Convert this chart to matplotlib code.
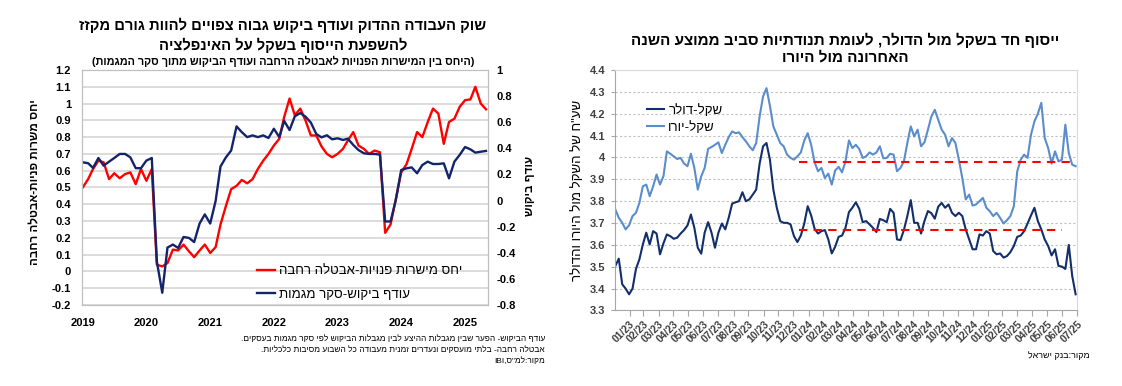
import re
import numpy as np
import pandas as pd
import matplotlib
matplotlib.use('Agg')
import matplotlib.pyplot as plt
from matplotlib.ticker import FuncFormatter

plt.rcParams['font.family'] = ['Liberation Sans', 'DejaVu Sans']


def heb(s):
    # matplotlib has no bidi: flip hebrew to visual order, keep latin/number runs
    r = s[::-1]
    r = re.sub(r'[A-Za-z0-9][A-Za-z0-9.,/:]*[A-Za-z0-9]|[A-Za-z0-9]',
               lambda m: m.group(0)[::-1], r)
    return r.translate(str.maketrans('()', ')('))


def num(v, pos=None):
    return f'{round(v, 2) + 0:g}'


# ---------------- left chart data (monthly, Jan 2019 - May 2025)
years = [2019, 2020, 2021, 2022, 2023, 2024, 2025]
vu_ratio = [0.50, 0.55, 0.61, 0.66, 0.65, 0.55, 0.585, 0.555, 0.58, 0.59, 0.52, 0.61,
            0.54, 0.61, 0.04, 0.03, 0.05, 0.13, 0.125, 0.16, 0.12, 0.085, 0.125, 0.16,
            0.11, 0.145, 0.28, 0.39, 0.49, 0.51, 0.545, 0.525, 0.55, 0.61, 0.66, 0.70,
            0.75, 0.79, 0.92, 1.03, 0.93, 0.97, 0.90, 0.81, 0.81, 0.745, 0.70, 0.68,
            0.70, 0.73, 0.78, 0.83, 0.75, 0.73, 0.70, 0.72, 0.71, 0.23, 0.28, 0.43,
            0.59, 0.64, 0.73, 0.83, 0.80, 0.89, 0.97, 0.94, 0.76, 0.89, 0.91, 0.98,
            1.02, 1.025, 1.10, 1.00, 0.966]
demand_surplus = [0.293, 0.286, 0.25, 0.326, 0.267, 0.298, 0.326, 0.357, 0.357, 0.331, 0.248, 0.248,
                  0.306, 0.326, -0.466, -0.706, -0.36, -0.337, -0.363, -0.279, -0.286, -0.318, -0.176, -0.106,
                  -0.176, -0.003, 0.261, 0.331, 0.383, 0.568, 0.524, 0.486, 0.499, 0.486, 0.499, 0.479,
                  0.55, 0.486, 0.61, 0.54, 0.645, 0.67, 0.643, 0.597, 0.51, 0.484, 0.50, 0.469,
                  0.477, 0.464, 0.474, 0.426, 0.387, 0.362, 0.357, 0.357, 0.352, -0.16, -0.16, 0.004,
                  0.234, 0.247, 0.254, 0.209, 0.272, 0.298, 0.28, 0.28, 0.285, 0.17, 0.298, 0.349,
                  0.41, 0.392, 0.367, 0.374, 0.38]
months = pd.date_range('2019-01-01', periods=len(vu_ratio), freq='MS')

# ---------------- right chart data (weekly readings, Jan 2023 - Jul 2025)
usd = [3.504, 3.537, 3.42, 3.40, 3.374, 3.40, 3.49, 3.534, 3.602, 3.656,
       3.602, 3.663, 3.652, 3.557, 3.607, 3.648, 3.64, 3.628, 3.633, 3.652,
       3.668, 3.689, 3.739, 3.678, 3.587, 3.56, 3.656, 3.704, 3.656, 3.587,
       3.656, 3.698, 3.671, 3.724, 3.789, 3.795, 3.80, 3.841, 3.80, 3.808,
       3.83, 3.853, 3.972, 4.051, 4.066, 3.99, 3.853, 3.77, 3.709, 3.701,
       3.701, 3.694, 3.64, 3.613, 3.643, 3.698, 3.777, 3.735, 3.674, 3.652,
       3.663, 3.668, 3.625, 3.561, 3.592, 3.637, 3.643, 3.678, 3.75, 3.77,
       3.795, 3.765, 3.704, 3.709, 3.694, 3.678, 3.659, 3.719, 3.713, 3.704,
       3.765, 3.747, 3.625, 3.622, 3.668, 3.732, 3.805, 3.701, 3.701, 3.652,
       3.71, 3.755, 3.745, 3.72, 3.775, 3.792, 3.77, 3.785, 3.747, 3.732,
       3.747, 3.732, 3.671, 3.625, 3.58, 3.58, 3.648, 3.643, 3.663, 3.652,
       3.572, 3.557, 3.561, 3.542, 3.549, 3.567, 3.595, 3.637, 3.643, 3.663,
       3.698, 3.735, 3.77, 3.709, 3.671, 3.625, 3.595, 3.552, 3.58, 3.504,
       3.501, 3.49, 3.60, 3.458, 3.374]
eur = [3.762, 3.724, 3.701, 3.671, 3.69, 3.732, 3.747, 3.792, 3.868, 3.876,
       3.823, 3.868, 3.922, 3.876, 3.914, 4.028, 4.017, 4.005, 3.993, 3.998,
       3.972, 3.96, 4.017, 3.952, 3.853, 3.914, 3.952, 4.039, 4.048, 4.058,
       4.069, 4.02, 4.058, 4.093, 4.119, 4.111, 4.115, 4.093, 4.074, 4.051,
       4.033, 4.066, 4.188, 4.279, 4.317, 4.236, 4.142, 4.104, 4.066, 4.051,
       4.013, 3.998, 3.99, 4.005, 4.023, 4.078, 4.111, 4.058, 3.978, 3.937,
       3.952, 3.906, 3.926, 3.876, 3.941, 3.957, 3.932, 3.982, 4.078, 4.043,
       4.058, 4.039, 3.998, 4.005, 4.023, 4.013, 4.023, 4.051, 3.996, 3.998,
       4.017, 4.013, 3.937, 3.952, 3.982, 4.066, 4.142, 4.096, 4.127, 4.051,
       4.07, 4.127, 4.188, 4.218, 4.172, 4.127, 4.104, 4.051, 4.089, 4.066,
       3.99, 3.906, 3.808, 3.83, 3.78, 3.785, 3.80, 3.815, 3.77, 3.754,
       3.732, 3.747, 3.724, 3.698, 3.713, 3.732, 3.777, 3.937, 3.99, 4.013,
       3.998, 4.104, 4.165, 4.20, 4.25, 4.089, 4.043, 3.972, 4.028, 3.982,
       3.99, 4.15, 4.02, 3.967, 3.96]
weeks = pd.date_range('2023-01-02', periods=len(usd), freq='7D')
month_ends = pd.date_range('2023-01-31', '2025-07-31', freq='ME')
eur_avg, usd_avg = 3.98, 3.67
avg_start = pd.Timestamp('2024-01-11')
eur_avg_end = pd.Timestamp('2025-07-21')
usd_avg_end = pd.Timestamp('2025-06-30')

fig = plt.figure(figsize=(11.22, 3.86), dpi=100)

# ================= left chart
ax = fig.add_axes([0.0731, 0.2098, 0.3619, 0.6089])
axr = ax.twinx()
l1, = ax.plot(months, vu_ratio, color='#ff0000', lw=1.7,
              label=heb('יחס מישרות פנויות-אבטלה רחבה'))
l2, = axr.plot(months, demand_surplus, color='#14246b', lw=1.7,
               label=heb('עודף ביקוש-סקר מגמות'))
ax.set_ylim(-0.2, 1.2)
axr.set_ylim(-0.8, 1.0)
ax.set_yticks(np.round(np.arange(-0.2, 1.21, 0.1), 1))
axr.set_yticks(np.round(np.arange(-0.8, 1.01, 0.2), 1))
ax.yaxis.set_major_formatter(FuncFormatter(num))
axr.yaxis.set_major_formatter(FuncFormatter(num))
ax.set_xlim(pd.Timestamp('2018-12-28'), pd.Timestamp('2025-05-13'))
ax.set_xticks(pd.to_datetime([f'{y}-01-01' for y in years]))
ax.set_xticklabels([str(y) for y in years])
ax.yaxis.grid(True, color='#d9d9d9', lw=1.3)
ax.set_axisbelow(True)
for a in (ax, axr):
    for s in a.spines.values():
        s.set_color('#bfbfbf')
    a.tick_params(length=0, labelsize=8)
    for t in a.get_xticklabels() + a.get_yticklabels():
        t.set_fontweight('bold')
ax.tick_params(axis='y', pad=8)
ax.tick_params(axis='x', pad=9)
axr.tick_params(axis='y', pad=6)
axr.legend(handles=[l1, l2], loc='upper left', bbox_to_anchor=(0.43, 0.17),
           frameon=False, fontsize=9.5, handlelength=1.4, handletextpad=0.3,
           labelspacing=0.85, borderpad=0, borderaxespad=0)

fig.text(35 / 1122, 1 - 182 / 386, heb('יחס משרות פניות-אבטלה רחבה'), rotation=90,
         ha='center', va='center', fontsize=8.4, fontweight='bold')
fig.text(530 / 1122, 1 - 186 / 386, heb('עודף ביקוש'), rotation=90,
         ha='center', va='center', fontsize=8.4, fontweight='bold')

fig.text(283 / 1122, 1 - 25 / 386, heb('שוק העבודה ההדוק ועודף ביקוש גבוה צפויים להוות גורם מקזז'),
         ha='center', va='center', fontsize=10.6, fontweight='bold')
fig.text(283 / 1122, 1 - 45 / 386, heb('להשפעת הייסוף בשקל על האינפלציה'),
         ha='center', va='center', fontsize=10.6, fontweight='bold')
fig.text(283 / 1122, 1 - 61 / 386,
         heb('(היחס בין המישרות הפנויות לאבטלה הרחבה ועודף הביקוש מתוך סקר המגמות)'),
         ha='center', va='center', fontsize=7.8, fontweight='bold')

notes = ['עודף הביקוש- הפער שבין מגבלות ההיצע לבין מגבלות הביקוש לפי סקר מגמות בעסקים.',
         'אבטלה רחבה- בלתי מועסקים ונעדרים זמנית מעבודה כל השבוע מסיבות כלכליות.',
         'מקור:למ"ס,IBI']
for i, n in enumerate(notes):
    fig.text(545 / 1122, 1 - (339 + 11 * i) / 386, heb(n), ha='right', va='center',
             fontsize=6.0)

# ================= right chart
ax2 = fig.add_axes([0.548, 0.1956, 0.412, 0.623])
d1, = ax2.plot(weeks, usd, color='#132f6b', lw=1.5, label=heb('שקל-דולר'))
d2, = ax2.plot(weeks, eur, color='#5b8dcc', lw=1.5, label=heb('שקל-יורו'))
ax2.hlines(eur_avg, avg_start, eur_avg_end, colors='#ff0000', linestyles=(0, (4, 3)), lw=1.5)
ax2.hlines(usd_avg, avg_start, usd_avg_end, colors='#ff0000', linestyles=(0, (4, 3)), lw=1.5)
ax2.set_ylim(3.3, 4.4)
ax2.set_yticks(np.round(np.arange(3.3, 4.41, 0.1), 1))
ax2.yaxis.set_major_formatter(FuncFormatter(num))
ax2.set_xlim(pd.Timestamp('2023-01-01'), pd.Timestamp('2025-07-31'))
ax2.set_xticks(month_ends)
ax2.set_xticklabels([d.strftime('%m/%y') for d in month_ends], rotation=45,
                    ha='right', rotation_mode='anchor')
ax2.yaxis.grid(True, color='#c0c0c0', lw=0.8, linestyle=(0, (2, 2)))
ax2.set_axisbelow(True)
ax2.spines['left'].set_color('#a6a6a6')
ax2.spines['bottom'].set_color('#a6a6a6')
ax2.spines['top'].set_color('#d9d9d9')
ax2.spines['right'].set_color('#d9d9d9')
ax2.tick_params(axis='y', length=3, color='#a6a6a6', labelsize=8, labelcolor='#404040', pad=4)
ax2.tick_params(axis='x', length=4, color='#a6a6a6', labelsize=7.5, labelcolor='#404040', pad=2)
for t in ax2.get_xticklabels() + ax2.get_yticklabels():
    t.set_fontweight('bold')
ax2.legend(handles=[d1, d2], loc='upper left', bbox_to_anchor=(0.07, 0.858),
           frameon=False, fontsize=9.5, handlelength=1.3, handletextpad=0.3,
           labelspacing=0.3, borderpad=0, borderaxespad=0)

fig.text(578 / 1122, 1 - 190 / 386, heb('שע"ח של השקל מול היורו והדולר'), rotation=90,
         ha='center', va='center', fontsize=9.5)
fig.text(845 / 1122, 1 - 40 / 386, heb('ייסוף חד בשקל מול הדולר, לעומת תנודתיות סביב ממוצע השנה'),
         ha='center', va='center', fontsize=11, fontweight='bold')
fig.text(845 / 1122, 1 - 57 / 386, heb('האחרונה מול היורו'),
         ha='center', va='center', fontsize=11, fontweight='bold')
fig.text(1090 / 1122, 1 - 356 / 386, heb('מקור:בנק ישראל'), ha='right', va='center',
         fontsize=6.5)

fig.savefig('out.png', dpi=100, facecolor='white')
